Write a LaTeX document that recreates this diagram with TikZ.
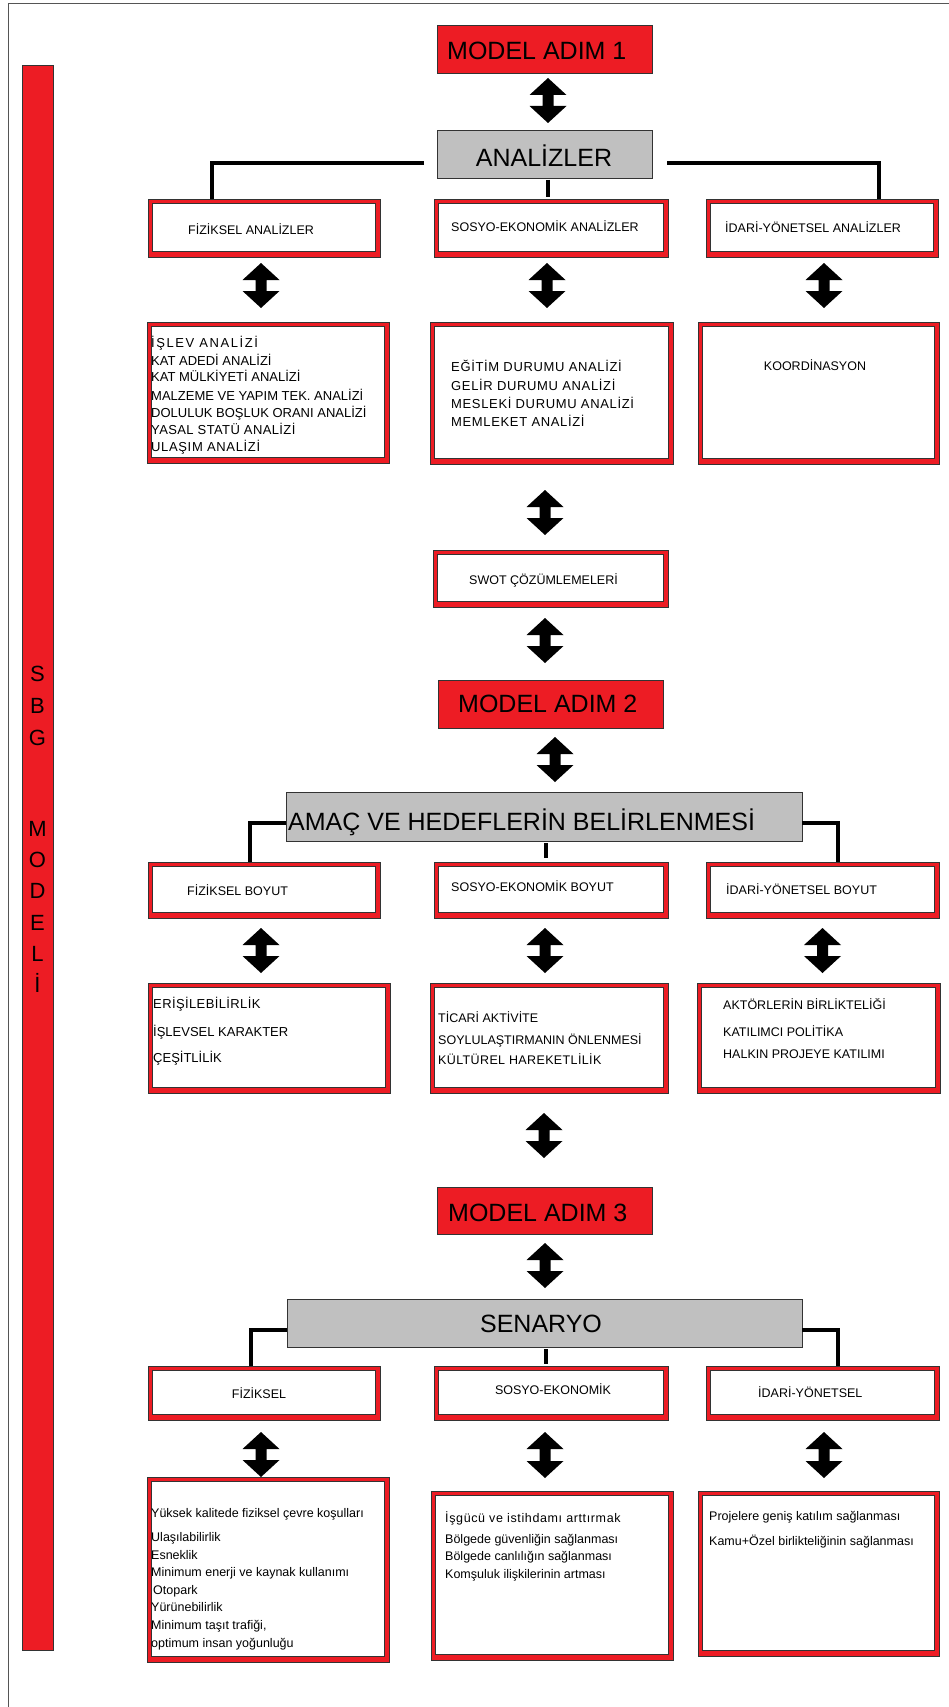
\documentclass[tikz,border=0pt]{standalone}
\usepackage{fontspec}
\setmainfont{Liberation Sans}
\usetikzlibrary{calc}
\definecolor{rd}{HTML}{ED1C24}
\definecolor{dk}{HTML}{333333}
\definecolor{gr}{HTML}{C0C0C0}
\definecolor{fr}{HTML}{555555}
\tikzset{
  redbox/.style={draw=dk, line width=0.8pt, fill=rd, inner sep=0, outer sep=0},
  graybox/.style={draw=dk, line width=0.8pt, fill=gr, inner sep=0, outer sep=0},
  dblout/.style={draw=dk, line width=0.8pt, fill=rd, inner sep=0, outer sep=0},
  tree/.style={line width=4.5pt, black},
  sm/.style={font=\fontsize{12.5}{15}\selectfont, inner sep=0, anchor=base west},
  smb/.style={font=\fontsize{13}{15}\selectfont, inner sep=0, anchor=base west},
  smc/.style={font=\fontsize{12.5}{15}\selectfont, inner sep=0, anchor=base},
  ttl/.style={font=\fontsize{25}{30}\selectfont, inner sep=0, anchor=base west},
  ttlc/.style={font=\fontsize{25}{30}\selectfont, inner sep=0, anchor=base},
  barletter/.style={font=\fontsize{22}{26}\selectfont, inner sep=0, anchor=base},
}
\newcommand\pbox[6]{\node[#2, minimum width={#5-#3}, minimum height={#6-#4}] (#1) at ({(#3+#5)/2},{(#4+#6)/2}) {};}
\newcommand\dbox[5]{%
  \node[dblout, minimum width={#4-#2}, minimum height={#5-#3}] (#1) at ({(#2+#4)/2},{(#3+#5)/2}) {};
  \draw[dk, line width=0.8pt, fill=white] ($(#1.north west)+(4,4)$) rectangle ($(#1.south east)+(-5,-6)$);}
\newcommand\darr[2]{\fill[black] let \p1=#1, \p2=#2 in
  (\x1,\y1) -- (\x1+18.5pt,\y1-17pt) -- (\x1+5.5pt,\y1-17pt) -- (\x1+5.5pt,\y2+17pt) -- (\x1+18.5pt,\y2+17pt)
  -- (\x1,\y2) -- (\x1-18.5pt,\y2+17pt) -- (\x1-5.5pt,\y2+17pt) -- (\x1-5.5pt,\y1-17pt) -- (\x1-18.5pt,\y1-17pt) -- cycle;}
\newcommand\lsp[2]{{\addfontfeatures{LetterSpace=#1}#2}}
\begin{document}
\begin{tikzpicture}[x=1pt, y=-1pt]
\useasboundingbox (0,0) rectangle (949,1707);
\fill[white] (0,0) rectangle (949,1707);
% frame
\draw[fr, line width=1pt] (8,1720) -- (8,4) -- (960,4);
% side bar
\pbox{sbg}{redbox}{22}{65}{53}{1650}
\node[barletter] (l1) at (37.5,681) {S};
\node[barletter] (l2) at (37.5,713) {B};
\node[barletter] (l3) at (37.5,745) {G};
\node[barletter] (l4) at (37.5,836) {M};
\node[barletter] (l5) at (37.5,867) {O};
\node[barletter] (l6) at (37.5,898) {D};
\node[barletter] (l7) at (37.5,930) {E};
\node[barletter] (l8) at (37.5,961) {L};
\node[barletter] (l9) at (37.5,992) {İ};
% boxes
\pbox{m1}{redbox}{437}{25}{652}{73}
\pbox{an}{graybox}{437}{130}{652}{178}
\dbox{r1a}{148}{199}{380}{257}
\dbox{r1b}{434}{199}{668}{257}
\dbox{r1c}{706}{199}{938}{257}
\dbox{r2a}{147}{322}{389}{463}
\dbox{r2b}{430}{322}{673}{464}
\dbox{r2c}{698}{322}{939}{464}
\dbox{swot}{433}{550}{668}{607}
\pbox{m2}{redbox}{438}{680}{663}{728}
\pbox{am}{graybox}{286}{792}{802}{841}
\dbox{r3a}{148}{862}{380}{918}
\dbox{r3b}{434}{862}{668}{918}
\dbox{r3c}{706}{862}{939}{918}
\dbox{r4a}{148}{983}{390}{1093}
\dbox{r4b}{430}{983}{668}{1093}
\dbox{r4c}{697}{983}{940}{1093}
\pbox{m3}{redbox}{437}{1187}{652}{1234}
\pbox{sen}{graybox}{287}{1299}{802}{1347}
\dbox{r5a}{148}{1366}{380}{1420}
\dbox{r5b}{434}{1366}{668}{1420}
\dbox{r5c}{706}{1366}{939}{1420}
\dbox{r6a}{147}{1477}{389}{1662}
\dbox{r6b}{431}{1491}{673}{1660}
\dbox{r6c}{698}{1491}{939}{1656}
% tree connectors
\draw[tree] ($(an.west)+(-13,9)$) -| ($(r1a.north)+(-52,0)$);
\draw[tree] ($(an.east)+(15,9)$) -| ($(r1c.north)+(57,0)$);
\draw[tree] ($(an.south)+(3.5,2)$) -- ($(r1b.north)+(-3,-2)$);
\draw[tree] ($(am.west)+(0,6.5)$) -| ($(r3a.north)+(-14,0)$);
\draw[tree] ($(am.east)+(0,6.5)$) -| ($(r3c.north)+(15.5,0)$);
\draw[tree] ($(am.south)+(2,2)$) -- ($(r3b.north)+(-5,-4)$);
\draw[tree] ($(sen.west)+(0,7)$) -| ($(r5a.north)+(-13,0)$);
\draw[tree] ($(sen.east)+(0,7)$) -| ($(r5c.north)+(15.5,0)$);
\draw[tree] ($(sen.south)+(1.5,2)$) -- ($(r5b.north)+(-5,-2)$);
% block arrows
\darr{($(m1.south)+(3.5,5)$)}{($(an.north)+(3.5,-7)$)}
\darr{($(r1a.south)+(-3,6)$)}{($(r2a.north)+(0,-14)$)}
\darr{($(r1b.south)+(-4,6)$)}{($(r2b.north)+(0,-14)$)}
\darr{($(r1c.south)+(2,6)$)}{($(r2c.north)+(0,-14)$)}
\darr{($(r2b.south)+(-6.5,26)$)}{($(swot.north)+(0,-15)$)}
\darr{($(swot.south)+(-5.5,11)$)}{($(m2.north)+(0,-17)$)}
\darr{($(m2.south)+(4.5,9)$)}{($(am.north)+(0,-10)$)}
\darr{($(r3a.south)+(-3,10)$)}{($(r4a.north)+(0,-10)$)}
\darr{($(r3b.south)+(-6,10)$)}{($(r4b.north)+(0,-10)$)}
\darr{($(r3c.south)+(0,10)$)}{($(r4c.north)+(0,-10)$)}
\darr{($(r4b.south)+(-5,20)$)}{($(m3.north)+(0,-29)$)}
\darr{($(m3.south)+(0.5,9)$)}{($(sen.north)+(0,-11)$)}
\darr{($(r5a.south)+(-3,12)$)}{($(r6a.north)+(0,0)$)}
\darr{($(r5b.south)+(-6,12)$)}{($(r6b.north)+(0,-13)$)}
\darr{($(r5c.south)+(1.5,12)$)}{($(r6c.north)+(0,-13)$)}
% titles
\node[ttl] (tm1) at (447,60) {MODEL ADIM 1};
\node[ttlc] (tan) at (544,167) {ANALİZLER};
\node[ttl] (tm2) at (458,712) {MODEL ADIM 2};
\node[ttl] (tam) at (288,830) {AMAÇ VE HEDEFLERİN BELİRLENMESİ};
\node[ttl] (tm3) at (448,1221) {MODEL ADIM 3};
\node[ttlc] (tsen) at (541,1332) {SENARYO};
% row 1
\node[sm] (t1a) at (188,234.5) {FİZİKSEL ANALİZLER};
\node[sm] (t1b) at (451,231.5) {SOSYO-EKONOMİK ANALİZLER};
\node[sm] (t1c) at (725,232.5) {İDARİ-YÖNETSEL ANALİZLER};
% row 2
\node[smb] (t2a1) at (151,347.5) {\lsp{12}{İŞLEV ANALİZİ}};
\node[smb] (t2a2) at (151,365.5) {KAT ADEDİ ANALİZİ};
\node[smb] (t2a3) at (151,381.5) {KAT MÜLKİYETİ ANALİZİ};
\node[smb] (t2a4) at (151,400.5) {MALZEME VE YAPIM TEK. ANALİZİ};
\node[smb] (t2a5) at (151,417.5) {DOLULUK BOŞLUK ORANI ANALİZİ};
\node[smb] (t2a6) at (151,434.5) {\lsp{3}{YASAL STATÜ ANALİZİ}};
\node[smb] (t2a7) at (151,451.5) {\lsp{5}{ULAŞIM ANALİZİ}};
\node[smb] (t2b1) at (451,371.5) {\lsp{5}{EĞİTİM DURUMU ANALİZİ}};
\node[smb] (t2b2) at (451,390.5) {\lsp{5}{GELİR DURUMU ANALİZİ}};
\node[smb] (t2b3) at (451,408.5) {\lsp{5}{MESLEKİ DURUMU ANALİZİ}};
\node[smb] (t2b4) at (451,426.5) {\lsp{5}{MEMLEKET ANALİZİ}};
\node[smc] (t2c1) at (815,370.5) {KOORDİNASYON};
% swot
\node[smc] (tsw) at (543.5,584.5) {SWOT ÇÖZÜMLEMELERİ};
% row 3
\node[sm] (t3a) at (187,895.5) {FİZİKSEL BOYUT};
\node[sm] (t3b) at (451,891.5) {SOSYO-EKONOMİK BOYUT};
\node[sm] (t3c) at (726,894.5) {İDARİ-YÖNETSEL BOYUT};
% row 4
\node[smb] (t4a1) at (153,1008) {\lsp{3}{ERİŞİLEBİLİRLİK}};
\node[smb] (t4a2) at (153,1036.5) {İŞLEVSEL KARAKTER};
\node[smb] (t4a3) at (153,1062.5) {ÇEŞİTLİLİK};
\node[sm] (t4b1) at (438,1022.5) {TİCARİ AKTİVİTE};
\node[sm] (t4b2) at (438,1044.5) {SOYLULAŞTIRMANIN ÖNLENMESİ};
\node[sm] (t4b3) at (438,1064.5) {\lsp{3}{KÜLTÜREL HAREKETLİLİK}};
\node[sm] (t4c1) at (723,1009.5) {AKTÖRLERİN BİRLİKTELİĞİ};
\node[sm] (t4c2) at (723,1036.5) {KATILIMCI POLİTİKA};
\node[sm] (t4c3) at (723,1058.5) {HALKIN PROJEYE KATILIMI};
% row 5
\node[smc] (t5a) at (259,1398.5) {FİZİKSEL};
\node[smc] (t5b) at (553,1394.5) {SOSYO-EKONOMİK};
\node[sm] (t5c) at (758,1397.5) {İDARİ-YÖNETSEL};
% row 6
\node[sm] (t6a1) at (151,1517.5) {Yüksek kalitede fiziksel çevre koşulları};
\node[sm] (t6a2) at (151,1541.5) {Ulaşılabilirlik};
\node[sm] (t6a3) at (151,1559.5) {Esneklik};
\node[sm] (t6a4) at (151,1576.5) {Minimum enerji ve kaynak kullanımı};
\node[sm] (t6a5) at (153,1594.5) {Otopark};
\node[sm] (t6a6) at (151,1611.5) {Yürünebilirlik};
\node[sm] (t6a7) at (151,1629.5) {Minimum taşıt trafiği,};
\node[sm] (t6a8) at (151,1647.5) {optimum insan yoğunluğu};
\node[sm] (t6b1) at (445,1522.5) {\lsp{5}{İşgücü ve istihdamı arttırmak}};
\node[sm] (t6b2) at (445,1543.5) {Bölgede güvenliğin sağlanması};
\node[sm] (t6b3) at (445,1560.5) {Bölgede canlılığın sağlanması};
\node[sm] (t6b4) at (445,1578.5) {Komşuluk ilişkilerinin artması};
\node[sm] (t6c1) at (709,1520.5) {Projelere geniş katılım sağlanması};
\node[sm] (t6c2) at (709,1545.5) {Kamu+Özel birlikteliğinin sağlanması};
\end{tikzpicture}
\end{document}
